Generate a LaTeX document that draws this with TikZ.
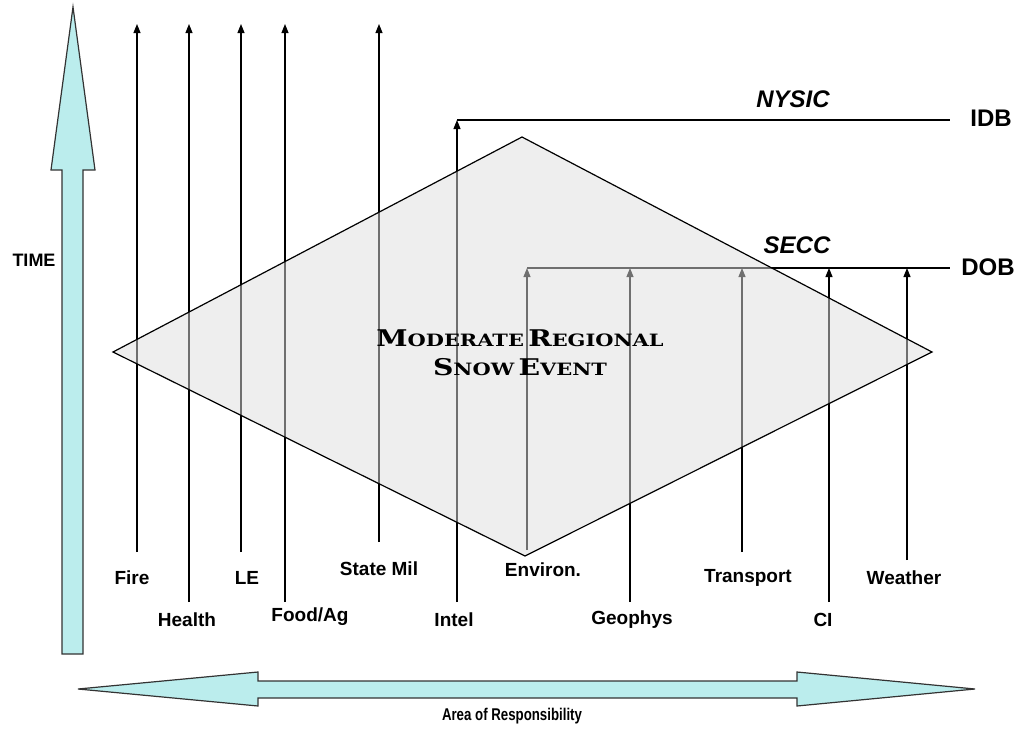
\documentclass[tikz,border=0pt]{standalone}
\usepackage{fontspec}
\setmainfont{Liberation Sans}
\newfontfamily\titlefont{DejaVu Serif}
\usetikzlibrary{arrows.meta}
\definecolor{arrowcyan}{RGB}{187,237,237}
\definecolor{diamondgray}{RGB}{222,222,222}
\newcommand\capsword[2]{{\fontsize{23}{26}\selectfont #1}{\fontsize{17}{20}\selectfont #2}}
\begin{document}
\begin{tikzpicture}[x=1pt,y=-1pt,
  lbl/.style={font=\fontsize{19}{22}\selectfont\bfseries, inner sep=0pt},
  bigl/.style={font=\fontsize{24}{28}\selectfont\bfseries, inner sep=0pt},
  bigit/.style={font=\fontsize{24}{28}\selectfont\bfseries\itshape, inner sep=0pt},
  flow/.style={line width=1.1pt, -{Triangle[width=7pt,length=9pt]}},
  bar/.style={line width=1.1pt},
  fat/.style={draw=black!80, line width=1.2pt, fill=arrowcyan, line join=miter}]
\useasboundingbox (0,0) rectangle (1021,729);

% big arrows
\draw[fat] (73,7) -- (95,170) -- (83,170) -- (83,654) -- (62,654) -- (62,170) -- (51,170) -- cycle;
\draw[fat] (78,689) -- (258,672) -- (258,681) -- (797,681) -- (797,672) -- (975,689)
  -- (797,706) -- (797,698) -- (258,698) -- (258,706) -- cycle;
\node[font=\fontsize{18}{20}\selectfont\bfseries, inner sep=0pt] (time) at (34,260) {TIME};
\node[font=\fontsize{17}{20}\selectfont\bfseries, inner sep=0pt] (aor) at (512,716) {\scalebox{0.78}[1]{Area of Responsibility}};

% coordinates
\coordinate (fireB) at (137,552);   \coordinate (fireT) at (137,24);
\coordinate (healthB) at (189,602); \coordinate (healthT) at (189,24);
\coordinate (leB) at (241,552);     \coordinate (leT) at (241,24);
\coordinate (foodB) at (285,602);   \coordinate (foodT) at (285,24);
\coordinate (milB) at (379,542);    \coordinate (milT) at (379,24);
\coordinate (intelB) at (457,602);  \coordinate (idbL) at (457,120); \coordinate (idbR) at (950,120);
\coordinate (envB) at (527,550);    \coordinate (dobL) at (527,268); \coordinate (dobR) at (950,268);
\coordinate (geoB) at (630,602);    \coordinate (geoT) at (630,268);
\coordinate (traB) at (742,552);    \coordinate (traT) at (742,268);
\coordinate (ciB) at (829,602);     \coordinate (ciT) at (829,268);
\coordinate (weaB) at (907,560);    \coordinate (weaT) at (907,268);

% thin arrows
\draw[flow] (fireB) -- (fireT);
\draw[flow] (healthB) -- (healthT);
\draw[flow] (leB) -- (leT);
\draw[flow] (foodB) -- (foodT);
\draw[flow] (milB) -- (milT);
\draw[flow] (intelB) -- (idbL);
\draw[bar] (idbL) -- (idbR);
\draw[flow] (envB) -- (dobL);
\draw[bar] (dobL) -- (dobR);
\draw[flow] (geoB) -- (geoT);
\draw[flow] (traB) -- (traT);
\draw[flow] (ciB) -- (ciT);
\draw[flow] (weaB) -- (weaT);

% diamond
\coordinate (dT) at (522,137);
\coordinate (dR) at (932,352);
\coordinate (dB) at (525,556);
\coordinate (dL) at (113,352);
\fill[diamondgray, fill opacity=0.5] (dT) -- (dR) -- (dB) -- (dL) -- cycle;
\draw[line width=1.2pt, line join=miter] (dT) -- (dR) -- (dB) -- (dL) -- cycle;

\node[align=center, inner sep=0pt, font=\titlefont\bfseries] (title) at (520,353)
  {\scalebox{1.23}[1]{\capsword{M}{ODERATE}\hspace{0.35em}\capsword{R}{EGIONAL}}\\[11pt]
   \scalebox{1.23}[1]{\capsword{S}{NOW}\hspace{0.35em}\capsword{E}{VENT}}};

% labels
\node[lbl] (fire) at (132,578) {Fire};
\node[lbl] (health) at (187,620) {Health};
\node[lbl] (le) at (247,578) {LE};
\node[lbl] (food) at (310,617) {Food/Ag};
\node[lbl] (mil) at (379,569) {State Mil};
\node[lbl] (intel) at (454,620) {Intel};
\node[lbl] (env) at (543,570) {Environ.};
\node[lbl] (geo) at (632,620) {Geophys};
\node[lbl] (tra) at (748,578) {Transport};
\node[lbl] (ci) at (823,620) {CI};
\node[lbl] (wea) at (904,578) {Weather};

\node[bigit] (nysic) at (793,99) {NYSIC};
\node[bigit] (secc) at (797,245) {SECC};
\node[bigl] (idb) at (991,118) {IDB};
\node[bigl] (dob) at (988,267) {DOB};
\end{tikzpicture}
\end{document}
